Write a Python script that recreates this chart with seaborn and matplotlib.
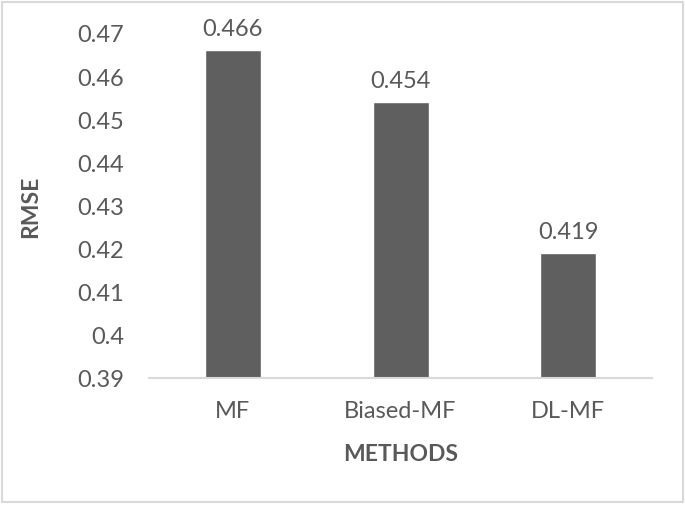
import pandas as pd
import matplotlib.pyplot as plt
import seaborn as sns
from matplotlib.patches import Rectangle

# chart values
methods = ["MF", "Biased-MF", "DL-MF"]
rmse = [0.466, 0.454, 0.419]
y_ticks = [0.39, 0.40, 0.41, 0.42, 0.43, 0.44, 0.45, 0.46, 0.47]
y_tick_labels = ["0.39", "0.4", "0.41", "0.42", "0.43", "0.44", "0.45", "0.46", "0.47"]

df = pd.DataFrame({"Method": methods, "RMSE": rmse})

sns.set_style("white")
plt.rcParams['font.family'] = ['Lato', 'DejaVu Sans']
text_col = "#595959"

fig = plt.figure(figsize=(6.85, 5.06), dpi=100)
ax = fig.add_axes([0.2175, 0.251, 0.7345, 0.682])

sns.barplot(data=df, x="Method", y="RMSE", color="#5f5f5f", width=0.334,
            saturation=1, ax=ax)

ax.set_ylim(0.39, 0.47)
ax.set_xlim(-0.5, 2.5)
ax.set_yticks(y_ticks)
ax.set_yticklabels(y_tick_labels)

for i, v in enumerate(rmse):
    ax.annotate(f"{v:.3f}", (i, v), xytext=(0, 8), textcoords="offset points",
                ha="center", va="bottom", fontsize=17, color=text_col)

for s in ["top", "right", "left"]:
    ax.spines[s].set_visible(False)
ax.spines["bottom"].set_color("#d9d9d9")
ax.spines["bottom"].set_linewidth(1.5)

ax.tick_params(axis="both", length=0, labelsize=17, colors=text_col)
ax.tick_params(axis="y", pad=18)
ax.tick_params(axis="x", pad=16)

ax.set_xlabel("METHODS", fontsize=16.5, fontweight="bold", color=text_col, labelpad=16)
ax.set_ylabel("RMSE", fontsize=16.5, fontweight="bold", color=text_col, labelpad=26)

# light chart border like the original
fig.patches.append(Rectangle((0.003, 0.005), 0.994, 0.99, transform=fig.transFigure,
                             fill=False, edgecolor="#d9d9d9", linewidth=1.5))

fig.savefig("out.png", dpi=100)
